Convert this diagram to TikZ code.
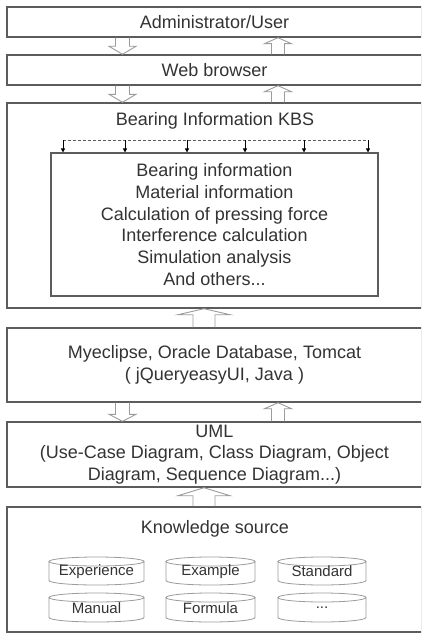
\documentclass[tikz,border=0pt]{standalone}
\usepackage{fontspec}
\setmainfont{Liberation Sans}
\usetikzlibrary{arrows.meta,calc}

\definecolor{boxgray}{HTML}{5C5C5C}
\definecolor{arrgray}{HTML}{9C9C9C}
\definecolor{txtgray}{HTML}{333333}

\tikzset{
  layer/.style={draw=boxgray, line width=1.4pt, minimum width=415pt, inner sep=0pt,
    align=center, text=txtgray, font=\fontsize{18}{21.7}\selectfont},
  innerbox/.style={draw=boxgray, line width=1.1pt, inner sep=0pt,
    align=center, text=txtgray, font=\fontsize{18}{21.7}\selectfont},
  title/.style={inner sep=0pt, text=txtgray, font=\fontsize{18}{21.7}\selectfont},
  blockline/.style={draw=arrgray, line width=0.9pt, line join=miter},
  drumline/.style={draw=arrgray, line width=0.8pt},
  drumtext/.style={inner sep=0pt, text=txtgray, font=\fontsize{15}{18}\selectfont},
  feed/.style={draw=boxgray, line width=0.7pt, dash pattern=on 3pt off 2pt},
  feedtip/.style={draw=black, line width=0.7pt, -{Triangle[length=4pt,width=4pt]}}
}

% hollow block arrows: tail point, tip point, half shaft, half head, head length
\newcommand\blockdown[5]{%
  \draw[blockline] let \p1=#1, \p2=#2 in
    (\x1-#3,\y1) -- (\x1-#3,\y2+#5) -- (\x1-#4,\y2+#5) -- (\x1,\y2)
    -- (\x1+#4,\y2+#5) -- (\x1+#3,\y2+#5) -- (\x1+#3,\y1);}
\newcommand\blockup[5]{%
  \draw[blockline] let \p1=#1, \p2=#2 in
    (\x1-#3,\y1) -- (\x1-#3,\y2-#5) -- (\x1-#4,\y2-#5) -- (\x1,\y2)
    -- (\x1+#4,\y2-#5) -- (\x1+#3,\y2-#5) -- (\x1+#3,\y1);}

% database drum: name, centre x, top, bottom, half width, label
\newcommand\drum[6]{%
  \draw[drumline] (#2-#5,#3+4.5) -- (#2-#5,#4-4.5)
    arc[start angle=180, end angle=0, x radius=#5, y radius=4.5] -- (#2+#5,#3+4.5);
  \draw[drumline] (#2,#3+4.5) ellipse [x radius=#5, y radius=4.5];
  \node[drumtext] (#1) at (#2,{(#3+#4)/2+0.5}) {#6};}

\begin{document}
\begin{tikzpicture}[x=1pt,y=-1pt]
  \useasboundingbox (0,0) rectangle (421,634);
  \clip (0,0) rectangle (421,634);
  \fill[white] (0,0) rectangle (421,634);

  % layers
  \node[layer, minimum height=30pt]  (admin) at (214.5,22)    {Administrator/User};
  \node[layer, minimum height=30pt]  (web)   at (214.5,70)    {Web browser};
  \node[layer, minimum height=205pt] (kbs)   at (214.5,205.5) {};
  \node[title] (kbstitle) at (215,121) {Bearing Information KBS};
  \node[innerbox, minimum width=327pt, minimum height=143pt] (modules) at (214.5,224.5)
    {Bearing information\\Material information\\Calculation of pressing force\\
     Interference calculation\\Simulation analysis\\And others...};
  \node[layer, minimum height=74pt]  (tools) at (214.5,365)
    {Myeclipse, Oracle Database, Tomcat\\( jQueryeasyUI, Java )};
  \node[layer, minimum height=65pt]  (uml)   at (214.5,454.5)
    {UML\\(Use-Case Diagram, Class Diagram, Object\\Diagram, Sequence Diagram...)};
  \node[layer, minimum height=125pt] (ks)    at (214.5,569.5) {};
  \node[title] (kstitle) at (215,529) {Knowledge source};

  % dashed distribution line inside the KBS
  \coordinate (d1) at (63,140);
  \coordinate (d2) at (125,140);
  \coordinate (d3) at (187,140);
  \coordinate (d4) at (245,140);
  \coordinate (d5) at (304,140);
  \coordinate (d6) at (368,140);
  \draw[feed] (d1) -- (d6);
  \foreach \d in {d1,d2,d3,d4,d5,d6}
    \draw[feedtip] (\d) -- (modules.north -| \d);

  % block arrows between layers
  \coordinate (dnx)  at (122.5,0);
  \coordinate (upx)  at (278,0);
  \coordinate (midx) at (204,0);
  \blockdown{(admin.south -| dnx)}{(web.north -| dnx)}{7pt}{13.5pt}{8pt}
  \blockup{(web.north -| upx)}{(admin.south -| upx)}{6.5pt}{13.5pt}{6pt}
  \blockdown{(web.south -| dnx)}{(kbs.north -| dnx)}{7pt}{13.5pt}{8pt}
  \blockup{(kbs.north -| upx)}{(web.south -| upx)}{6.5pt}{13.5pt}{6pt}
  \blockup{(tools.north -| midx)}{(kbs.south -| midx)}{11pt}{26pt}{6pt}
  \blockdown{(tools.south -| dnx)}{(uml.north -| dnx)}{7pt}{13.5pt}{7pt}
  \blockup{(uml.north -| upx)}{(tools.south -| upx)}{6.5pt}{13.5pt}{6pt}
  \blockup{(ks.north -| midx)}{(uml.south -| midx)}{11pt}{26pt}{8pt}

  % knowledge sources
  \drum{exp}{96.5}{557}{585}{47.5}{Experience}
  \drum{ex}{210.5}{557}{585}{44.5}{Example}
  \drum{std}{322}{557}{585}{44}{Standard}
  \drum{man}{96.5}{593}{622}{47.5}{Manual}
  \drum{frm}{210.5}{593}{622}{44.5}{Formula}
  \drum{etc}{322}{593}{622}{44}{...}
\end{tikzpicture}
\end{document}
